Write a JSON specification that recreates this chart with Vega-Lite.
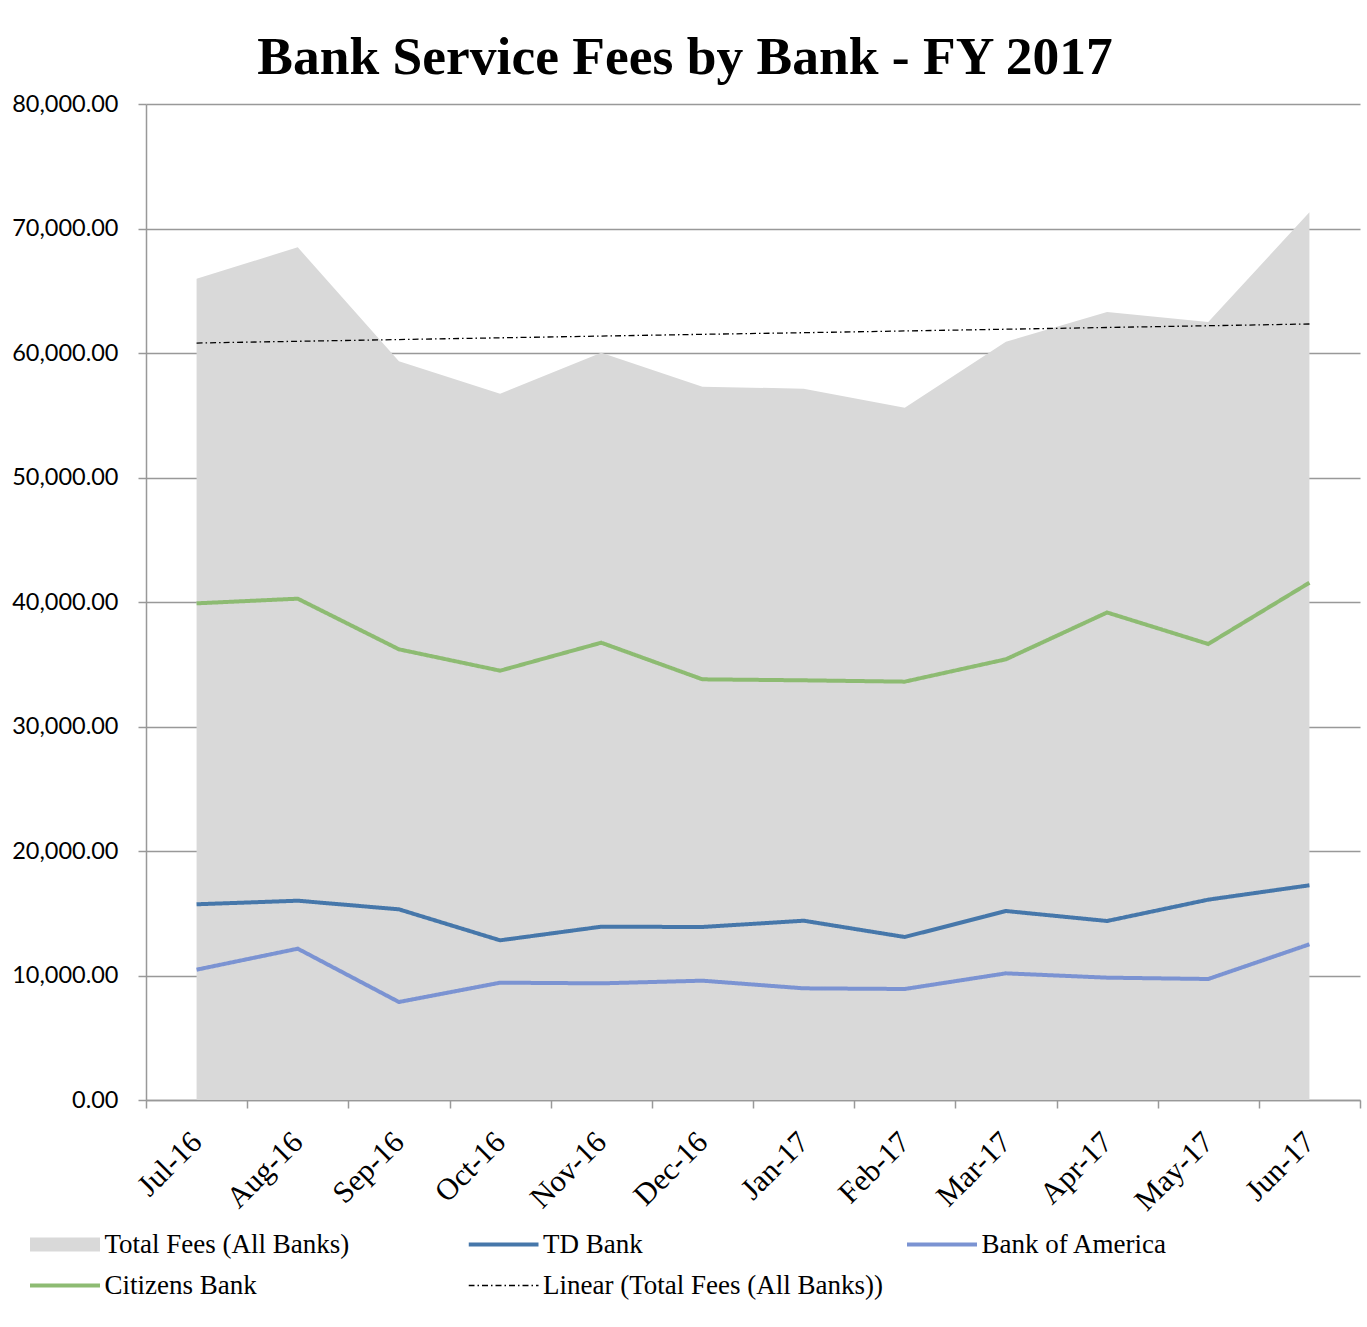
{
  "$schema": "https://vega.github.io/schema/vega-lite/v6.json",
  "width": 1214,
  "height": 996,
  "autosize": {"type": "none"},
  "padding": {"left": 146, "top": 104, "right": 7, "bottom": 227},
  "background": "white",
  "title": {
    "text": "Bank Service Fees by Bank - FY 2017",
    "font": "Liberation Serif",
    "fontSize": 53.5,
    "fontWeight": "bold",
    "color": "black",
    "anchor": "middle",
    "dx": -68,
    "dy": 64,
    "offset": 29,
    "baseline": "alphabetic"
  },
  "data": {
    "values": [
      {"month": "Jul-16", "series": "Total Fees (All Banks)", "value": 65968},
      {"month": "Aug-16", "series": "Total Fees (All Banks)", "value": 68490},
      {"month": "Sep-16", "series": "Total Fees (All Banks)", "value": 59333},
      {"month": "Oct-16", "series": "Total Fees (All Banks)", "value": 56731},
      {"month": "Nov-16", "series": "Total Fees (All Banks)", "value": 60024},
      {"month": "Dec-16", "series": "Total Fees (All Banks)", "value": 57296},
      {"month": "Jan-17", "series": "Total Fees (All Banks)", "value": 57135},
      {"month": "Feb-17", "series": "Total Fees (All Banks)", "value": 55609},
      {"month": "Mar-17", "series": "Total Fees (All Banks)", "value": 60908},
      {"month": "Apr-17", "series": "Total Fees (All Banks)", "value": 63293},
      {"month": "May-17", "series": "Total Fees (All Banks)", "value": 62490},
      {"month": "Jun-17", "series": "Total Fees (All Banks)", "value": 71301},
      {"month": "Jul-16", "series": "TD Bank", "value": 15719},
      {"month": "Aug-16", "series": "TD Bank", "value": 16008},
      {"month": "Sep-16", "series": "TD Bank", "value": 15315},
      {"month": "Oct-16", "series": "TD Bank", "value": 12825},
      {"month": "Nov-16", "series": "TD Bank", "value": 13920},
      {"month": "Dec-16", "series": "TD Bank", "value": 13896},
      {"month": "Jan-17", "series": "TD Bank", "value": 14402},
      {"month": "Feb-17", "series": "TD Bank", "value": 13092},
      {"month": "Mar-17", "series": "TD Bank", "value": 15181},
      {"month": "Apr-17", "series": "TD Bank", "value": 14378},
      {"month": "May-17", "series": "TD Bank", "value": 16092},
      {"month": "Jun-17", "series": "TD Bank", "value": 17245},
      {"month": "Jul-16", "series": "Bank of America", "value": 10467},
      {"month": "Aug-16", "series": "Bank of America", "value": 12153},
      {"month": "Sep-16", "series": "Bank of America", "value": 7871},
      {"month": "Oct-16", "series": "Bank of America", "value": 9424},
      {"month": "Nov-16", "series": "Bank of America", "value": 9370},
      {"month": "Dec-16", "series": "Bank of America", "value": 9584},
      {"month": "Jan-17", "series": "Bank of America", "value": 8969},
      {"month": "Feb-17", "series": "Bank of America", "value": 8916},
      {"month": "Mar-17", "series": "Bank of America", "value": 10174},
      {"month": "Apr-17", "series": "Bank of America", "value": 9826},
      {"month": "May-17", "series": "Bank of America", "value": 9719},
      {"month": "Jun-17", "series": "Bank of America", "value": 12506},
      {"month": "Jul-16", "series": "Citizens Bank", "value": 39892},
      {"month": "Aug-16", "series": "Citizens Bank", "value": 40266},
      {"month": "Sep-16", "series": "Citizens Bank", "value": 36200},
      {"month": "Oct-16", "series": "Citizens Bank", "value": 34484},
      {"month": "Nov-16", "series": "Citizens Bank", "value": 36731},
      {"month": "Dec-16", "series": "Citizens Bank", "value": 33789},
      {"month": "Jan-17", "series": "Citizens Bank", "value": 33709},
      {"month": "Feb-17", "series": "Citizens Bank", "value": 33602},
      {"month": "Mar-17", "series": "Citizens Bank", "value": 35398},
      {"month": "Apr-17", "series": "Citizens Bank", "value": 39157},
      {"month": "May-17", "series": "Citizens Bank", "value": 36627},
      {"month": "Jun-17", "series": "Citizens Bank", "value": 41550},
      {"month": "Jul-16", "series": "Linear (Total Fees (All Banks))", "value": 60800},
      {"month": "Aug-16", "series": "Linear (Total Fees (All Banks))", "value": 60940},
      {"month": "Sep-16", "series": "Linear (Total Fees (All Banks))", "value": 61080},
      {"month": "Oct-16", "series": "Linear (Total Fees (All Banks))", "value": 61220},
      {"month": "Nov-16", "series": "Linear (Total Fees (All Banks))", "value": 61360},
      {"month": "Dec-16", "series": "Linear (Total Fees (All Banks))", "value": 61500},
      {"month": "Jan-17", "series": "Linear (Total Fees (All Banks))", "value": 61630},
      {"month": "Feb-17", "series": "Linear (Total Fees (All Banks))", "value": 61770},
      {"month": "Mar-17", "series": "Linear (Total Fees (All Banks))", "value": 61910},
      {"month": "Apr-17", "series": "Linear (Total Fees (All Banks))", "value": 62050},
      {"month": "May-17", "series": "Linear (Total Fees (All Banks))", "value": 62190},
      {"month": "Jun-17", "series": "Linear (Total Fees (All Banks))", "value": 62330}
    ]
  },
  "encoding": {
    "x": {
      "field": "month",
      "type": "ordinal",
      "sort": ["Jul-16", "Aug-16", "Sep-16", "Oct-16", "Nov-16", "Dec-16", "Jan-17", "Feb-17", "Mar-17", "Apr-17", "May-17", "Jun-17"],
      "scale": {"type": "band", "paddingInner": 0, "paddingOuter": 0},
      "axis": {
        "title": null,
        "labelAngle": -45,
        "labelAlign": "right",
        "labelBaseline": "middle",
        "labelFont": "Liberation Serif",
        "labelFontSize": 30.5,
        "labelColor": "black",
        "labelPadding": 29,
        "tickSize": 8,
        "tickBand": "extent",
        "tickColor": "#999999",
        "tickWidth": 1.5,
        "domainColor": "#999999",
        "domainWidth": 1.5,
        "grid": false
      }
    },
    "y": {
      "field": "value",
      "type": "quantitative",
      "scale": {"domain": [0, 80000], "nice": false},
      "axis": {
        "title": null,
        "format": ",.2f",
        "values": [0, 10000, 20000, 30000, 40000, 50000, 60000, 70000, 80000],
        "labelFont": "Lato",
        "labelFontSize": 23.5,
        "labelColor": "black",
        "labelPadding": 20,
        "tickSize": 8,
        "tickColor": "#999999",
        "tickWidth": 1.5,
        "domainColor": "#999999",
        "domainWidth": 1.5,
        "grid": true,
        "gridColor": "#999999",
        "gridWidth": 1.5
      }
    },
    "color": {
      "field": "series",
      "type": "nominal",
      "scale": {
        "domain": ["Total Fees (All Banks)", "TD Bank", "Bank of America", "Citizens Bank", "Linear (Total Fees (All Banks))"],
        "range": ["#d9d9d9", "#4677aa", "#7b93d2", "#8dbb72", "#000000"]
      },
      "legend": {
        "title": null,
        "orient": "none",
        "legendX": -116,
        "legendY": 1127,
        "direction": "horizontal",
        "columns": 3,
        "gridAlign": "all",
        "columnPadding": 23.5,
        "rowPadding": 13,
        "clipHeight": 27,
        "symbolType": "stroke",
        "symbolSize": 4900,
        "symbolStrokeWidth": 4,
        "symbolOffset": 21.5,
        "labelFont": "Liberation Serif",
        "labelFontSize": 27,
        "labelColor": "black",
        "labelOffset": 26,
        "labelLimit": 500,
        "padding": 0,
        "encode": {
          "symbols": {
            "update": {
              "size": {"value": 4900},
              "shape": {"signal": "datum.value === 'Total Fees (All Banks)' ? 'M-1,-0.2H1V0.2H-1Z' : 'stroke'"},
              "fill": {"signal": "datum.value === 'Total Fees (All Banks)' ? '#d9d9d9' : 'transparent'"},
              "strokeWidth": {"signal": "datum.value === 'Total Fees (All Banks)' ? 0 : (datum.value === 'Linear (Total Fees (All Banks))' ? 1.3 : 4)"},
              "strokeDash": {"signal": "datum.value === 'Linear (Total Fees (All Banks))' ? [6, 3, 1.5, 3] : [1, 0]"},
              "opacity": {"value": 1}
            }
          }
        }
      }
    }
  },
  "layer": [
    {
      "transform": [{"filter": "datum.series === 'Total Fees (All Banks)'"}],
      "mark": {"type": "area", "opacity": 1}
    },
    {
      "transform": [{"filter": "datum.series !== 'Total Fees (All Banks)'"}],
      "mark": {"type": "line"},
      "encoding": {
        "strokeWidth": {
          "condition": {"test": "datum.series === 'Linear (Total Fees (All Banks))'", "value": 1.3},
          "value": 4
        },
        "strokeDash": {
          "condition": {"test": "datum.series === 'Linear (Total Fees (All Banks))'", "value": [6, 3, 1.5, 3]},
          "value": [1, 0]
        }
      }
    }
  ],
  "config": {
    "view": {"stroke": null}
  }
}
